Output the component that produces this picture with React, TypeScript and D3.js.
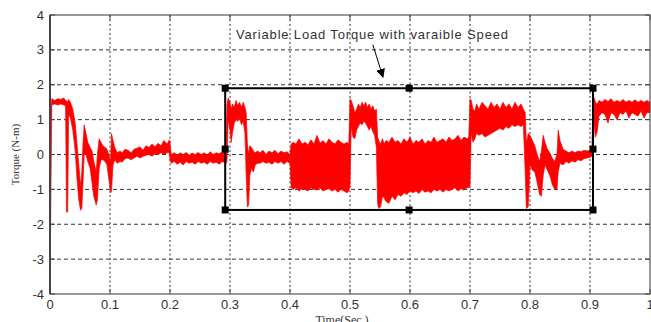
import React, { useEffect, useRef } from 'react';
import * as d3 from 'd3';

const xTicks = [0, 0.1, 0.2, 0.3, 0.4, 0.5, 0.6, 0.7, 0.8, 0.9, 1];
const xTickLabels = ['0', '0.1', '0.2', '0.3', '0.4', '0.5', '0.6', '0.7', '0.8', '0.9', '1'];
const yTicks = [-4, -3, -2, -1, 0, 1, 2, 3, 4];

// torque envelope: [time (s), upper (N-m), lower (N-m)]
const startup = [
  [0, 1.2, -4], [0.0015, 1.2, -1.1], [0.003, 1.6, 1.42], [0.008, 1.55, 1.45], [0.013, 1.6, 1.42],
  [0.018, 1.58, 1.45], [0.023, 1.62, 1.42], [0.026, 1.55, 1.4], [0.0275, 1.55, -1.65], [0.0295, 1.5, -1.65],
  [0.031, 1.58, 1.15], [0.034, 1.5, 1.05], [0.038, 1.3, 0.7], [0.042, 0.9, 0.1], [0.045, 0.3, -0.7],
  [0.048, -0.3, -1.3], [0.051, -0.9, -1.6], [0.053, -0.5, -1.55], [0.055, 0.3, -0.8], [0.057, 0.85, 0.0],
  [0.06, 0.6, 0.0], [0.063, 0.35, -0.2], [0.067, 0.2, -0.4], [0.07, 0.1, -0.8], [0.073, -0.2, -1.2],
  [0.077, -0.5, -1.45], [0.079, 0.0, -1.3], [0.082, 0.45, -0.4], [0.085, 0.35, -0.15], [0.088, 0.25, -0.15],
  [0.092, 0.2, -0.2], [0.095, 0.15, -0.3], [0.098, 0.0, -0.7], [0.101, -0.2, -1.1], [0.1025, 0.6, -1.05],
  [0.105, 0.4, -0.3], [0.108, 0.2, -0.15], [0.112, 0.05, -0.25], [0.117, 0.1, -0.2], [0.12, 0.05, -0.22],
  [0.125, 0.15, -0.12], [0.13, 0.12, -0.1], [0.135, 0.05, -0.15], [0.14, 0.15, -0.1], [0.145, 0.18, -0.05],
  [0.15, 0.22, -0.1], [0.155, 0.12, -0.05], [0.16, 0.25, -0.02], [0.165, 0.2, 0.0], [0.17, 0.3, -0.05],
  [0.175, 0.22, 0.02], [0.18, 0.32, 0.0], [0.185, 0.25, 0.05], [0.19, 0.4, 0.0], [0.195, 0.3, 0.05],
  [0.199, 0.42, 0.05],
];

const lowPlateau = [
  [0.2, 0.35, -0.15], [0.202, 0.0, -0.25], [0.207, 0.05, -0.2], [0.212, -0.02, -0.28], [0.217, 0.05, -0.22],
  [0.222, 0.0, -0.3], [0.227, 0.06, -0.2], [0.232, -0.02, -0.25], [0.237, 0.04, -0.22], [0.242, 0.0, -0.28],
  [0.247, 0.06, -0.2], [0.252, 0.0, -0.25], [0.257, 0.05, -0.22], [0.262, -0.02, -0.28], [0.267, 0.08, -0.2],
  [0.272, 0.0, -0.25], [0.277, 0.05, -0.22], [0.282, 0.02, -0.28], [0.287, 0.08, -0.2], [0.2935, 0.0, -0.25],
];

const step030 = [
  [0.295, 1.45, -0.2], [0.297, 1.62, 1.0], [0.3, 1.5, 0.7], [0.302, 1.3, 0.35], [0.304, 1.45, 0.6],
  [0.307, 1.35, 0.9], [0.31, 1.55, 1.0], [0.313, 1.4, 0.95], [0.316, 1.5, 1.05], [0.319, 1.35, 0.85],
  [0.322, 1.5, 0.95], [0.325, 1.35, 0.6], [0.327, 1.2, -0.6], [0.329, 0.3, -1.5], [0.331, 0.0, -1.45],
  [0.333, 0.25, -0.6], [0.336, 0.2, -0.4], [0.339, 0.1, -0.5], [0.342, 0.05, -0.3], [0.346, 0.1, -0.25],
  [0.35, 0.05, -0.25], [0.355, 0.12, -0.2], [0.36, 0.0, -0.25], [0.365, 0.1, -0.22], [0.37, 0.05, -0.28],
  [0.375, 0.12, -0.2], [0.38, 0.02, -0.25], [0.385, 0.1, -0.2], [0.39, 0.05, -0.28], [0.395, 0.08, -0.2],
  [0.4, 0.0, -0.25],
];

const band040 = [
  [0.402, 0.3, -0.95], [0.405, 0.35, -1.0], [0.41, 0.3, -0.95], [0.415, 0.45, -1.05], [0.42, 0.3, -0.98],
  [0.425, 0.35, -1.0], [0.43, 0.28, -1.05], [0.435, 0.42, -0.95], [0.44, 0.3, -1.0], [0.445, 0.55, -1.02],
  [0.45, 0.32, -0.95], [0.455, 0.4, -1.05], [0.46, 0.3, -1.0], [0.465, 0.45, -0.98], [0.47, 0.35, -1.05],
  [0.475, 0.3, -1.0], [0.48, 0.42, -1.08], [0.485, 0.35, -1.0], [0.49, 0.3, -1.05], [0.495, 0.35, -1.1],
  [0.498, 0.3, -1.05],
];

const step050 = [
  [0.5, 1.6, -0.9], [0.502, 1.55, 0.8], [0.505, 1.4, 0.5], [0.508, 1.2, 0.45], [0.511, 1.3, 0.7],
  [0.514, 1.45, 0.8], [0.517, 1.35, 0.9], [0.52, 1.5, 0.85], [0.523, 1.4, 0.95], [0.526, 1.5, 0.9],
  [0.529, 1.35, 0.8], [0.532, 1.45, 0.7], [0.535, 1.3, 0.8], [0.538, 1.4, 0.65], [0.541, 1.25, 0.55],
  [0.544, 1.3, 0.2],
];

const band055 = [
  [0.546, 0.5, -1.4], [0.548, 0.4, -1.55], [0.551, 0.3, -1.5], [0.554, 0.45, -1.2], [0.557, 0.3, -1.25],
  [0.56, 0.4, -1.35], [0.565, 0.35, -1.4], [0.57, 0.5, -1.2], [0.575, 0.35, -1.3], [0.58, 0.4, -1.15],
  [0.585, 0.3, -1.2], [0.59, 0.45, -1.1], [0.595, 0.35, -1.15], [0.6, 0.5, -1.05], [0.605, 0.3, -1.1],
  [0.61, 0.4, -1.05], [0.615, 0.35, -1.12], [0.62, 0.45, -1.0], [0.625, 0.3, -1.08], [0.63, 0.4, -1.05],
  [0.635, 0.35, -1.1], [0.64, 0.5, -1.0], [0.645, 0.35, -1.05], [0.65, 0.4, -1.0], [0.655, 0.45, -1.08],
  [0.66, 0.35, -1.0], [0.665, 0.5, -1.05], [0.67, 0.4, -1.0], [0.675, 0.45, -0.95], [0.68, 0.55, -1.05],
  [0.685, 0.4, -0.98], [0.69, 0.5, -1.02], [0.695, 0.45, -0.95], [0.698, 0.5, -0.95],
];

const step070 = [
  [0.7, 1.6, -0.9], [0.702, 1.55, 0.6], [0.705, 1.3, 0.35], [0.708, 1.25, 0.45], [0.711, 1.45, 0.6],
  [0.715, 1.3, 0.55], [0.72, 1.5, 0.6], [0.725, 1.4, 0.5], [0.73, 1.3, 0.55], [0.735, 1.5, 0.6],
  [0.74, 1.35, 0.65], [0.745, 1.45, 0.7], [0.75, 1.3, 0.75], [0.755, 1.5, 0.7], [0.76, 1.35, 0.8],
  [0.765, 1.45, 0.75], [0.77, 1.3, 0.85], [0.775, 1.5, 0.8], [0.78, 1.35, 0.85], [0.785, 1.45, 0.8],
  [0.789, 1.3, 0.85],
];

const step079 = [
  [0.792, 1.2, -0.5], [0.794, 0.3, -1.55], [0.797, 0.6, -1.5], [0.8, 0.55, -0.3], [0.804, 0.4, -0.45],
  [0.808, 0.25, -0.5], [0.812, 0.0, -0.8], [0.816, -0.2, -1.15], [0.819, 0.1, -1.2], [0.822, 0.55, -0.6],
  [0.825, 0.35, -0.3], [0.829, 0.15, -0.45], [0.833, 0.05, -0.6], [0.837, -0.1, -0.85], [0.841, -0.2, -1.0],
  [0.845, 0.0, -1.0], [0.847, 0.7, -0.5], [0.85, 0.4, -0.25], [0.855, 0.15, -0.3], [0.86, 0.1, -0.2],
  [0.865, 0.05, -0.25], [0.87, 0.1, -0.18], [0.875, 0.05, -0.22], [0.88, 0.1, -0.15], [0.885, 0.08, -0.18],
  [0.89, 0.12, -0.12], [0.895, 0.1, -0.1], [0.9, 0.12, -0.08], [0.903, 0.1, -0.05],
];

const step090 = [
  [0.905, 1.5, -0.05], [0.907, 1.62, 0.9], [0.909, 1.5, 0.5], [0.912, 1.45, 0.65], [0.915, 1.55, 1.1],
  [0.92, 1.5, 1.2], [0.925, 1.58, 1.15], [0.93, 1.52, 0.9], [0.935, 1.6, 1.2], [0.94, 1.5, 1.15],
  [0.945, 1.55, 1.0], [0.95, 1.5, 1.2], [0.955, 1.58, 1.15], [0.96, 1.5, 1.25], [0.965, 1.55, 1.05],
  [0.97, 1.5, 1.2], [0.975, 1.57, 1.15], [0.98, 1.5, 1.1], [0.985, 1.55, 1.25], [0.99, 1.5, 1.05],
  [0.995, 1.55, 1.2], [1.0, 1.5, 1.2],
];

// annotation (data units)
const boxTime = [0.292, 0.905];
const boxTorque = [-1.59, 1.9];
const noteText = 'Variable Load Torque with varaible Speed';
const notePos = [0.31, 3.31];
const arrowFrom = [0.538, 3.15];
const arrowTo = [0.555, 2.22];

const App = () => {
  const svgRef = useRef(null);

  useEffect(() => {
    const svg = d3.select(svgRef.current);
    svg.selectAll('*').remove();

    const margin = { top: 15, left: 50 },
          width = 600,
          height = 279;

    const x = d3.scaleLinear().domain([0, 1]).range([margin.left, margin.left + width]);
    const y = d3.scaleLinear().domain([-4, 4]).range([margin.top + height, margin.top]);

    svg.append('rect').attr('width', 651).attr('height', 322).attr('fill', '#fff');

    // grid
    svg.append('g').selectAll('line')
      .data(yTicks.slice(1, -1))
      .enter().append('line')
      .attr('x1', x(0)).attr('x2', x(1))
      .attr('y1', d => y(d)).attr('y2', d => y(d))
      .attr('stroke', '#333').attr('stroke-width', 1).attr('stroke-dasharray', '4,3');
    svg.append('g').selectAll('line')
      .data(xTicks.slice(1, -1))
      .enter().append('line')
      .attr('x1', d => x(d)).attr('x2', d => x(d))
      .attr('y1', y(4)).attr('y2', y(-4))
      .attr('stroke', '#333').attr('stroke-width', 1).attr('stroke-dasharray', '2,2.5');

    // torque trace
    const trace = [...startup, ...lowPlateau, ...step030, ...band040, ...step050,
      ...band055, ...step070, ...step079, ...step090];
    const area = d3.area()
      .x(d => x(d[0]))
      .y0(d => y(d[2]))
      .y1(d => y(d[1]));
    svg.append('path')
      .datum(trace)
      .attr('d', area)
      .attr('fill', '#ff0000')
      .attr('stroke', '#ff0000')
      .attr('stroke-width', 0.7);

    // frame + inside ticks
    svg.append('rect')
      .attr('x', x(0)).attr('y', y(4))
      .attr('width', width).attr('height', height)
      .attr('fill', 'none').attr('stroke', '#555').attr('stroke-width', 1.2);
    svg.append('line').attr('x1', x(0)).attr('x2', x(0)).attr('y1', y(4)).attr('y2', y(-4))
      .attr('stroke', '#444').attr('stroke-width', 2);
    const ticks = svg.append('g').attr('stroke', '#444').attr('stroke-width', 1);
    xTicks.forEach(t => {
      ticks.append('line').attr('x1', x(t)).attr('x2', x(t)).attr('y1', y(-4)).attr('y2', y(-4) - 5);
      ticks.append('line').attr('x1', x(t)).attr('x2', x(t)).attr('y1', y(4)).attr('y2', y(4) + 5);
    });
    yTicks.forEach(v => {
      ticks.append('line').attr('x1', x(0)).attr('x2', x(0) + 5).attr('y1', y(v)).attr('y2', y(v));
      ticks.append('line').attr('x1', x(1)).attr('x2', x(1) - 5).attr('y1', y(v)).attr('y2', y(v));
    });

    // tick labels
    svg.append('g').selectAll('text')
      .data(xTicks)
      .enter().append('text')
      .attr('x', d => x(d))
      .attr('y', y(-4) + 15)
      .attr('text-anchor', 'middle')
      .style('font-family', 'Arial, "Liberation Sans", sans-serif')
      .style('font-size', '13px')
      .style('fill', '#333')
      .text((d, i) => xTickLabels[i]);
    svg.append('g').selectAll('text')
      .data(yTicks)
      .enter().append('text')
      .attr('x', x(0) - 6)
      .attr('y', d => y(d))
      .attr('dy', '0.35em')
      .attr('text-anchor', 'end')
      .style('font-family', 'Arial, "Liberation Sans", sans-serif')
      .style('font-size', '13px')
      .style('fill', '#333')
      .text(d => d);

    // axis titles
    svg.append('text')
      .attr('x', 342).attr('y', 324)
      .attr('text-anchor', 'middle')
      .style('font-family', '"Liberation Serif", "Times New Roman", serif')
      .style('font-size', '12px')
      .style('fill', '#333')
      .text('Time(Sec.)');
    svg.append('text')
      .attr('transform', `translate(19,${y(0)}) rotate(-90)`)
      .attr('text-anchor', 'middle')
      .style('font-family', '"Liberation Serif", "Times New Roman", serif')
      .style('font-size', '11px')
      .style('fill', '#333')
      .text('Torque (N-m)');

    // annotation box with handles
    const bx0 = x(boxTime[0]), bx1 = x(boxTime[1]);
    const by0 = y(boxTorque[1]), by1 = y(boxTorque[0]);
    svg.append('rect')
      .attr('x', bx0).attr('y', by0)
      .attr('width', bx1 - bx0).attr('height', by1 - by0)
      .attr('fill', 'none').attr('stroke', '#000').attr('stroke-width', 2);
    const bxm = (bx0 + bx1) / 2, bym = (by0 + by1) / 2;
    const handles = [[bx0, by0], [bxm, by0], [bx1, by0], [bx0, bym], [bx1, bym], [bx0, by1], [bxm, by1], [bx1, by1]];
    svg.append('g').selectAll('rect')
      .data(handles)
      .enter().append('rect')
      .attr('x', d => d[0] - 3.5).attr('y', d => d[1] - 3.5)
      .attr('width', 7).attr('height', 7)
      .attr('fill', '#000');

    // annotation text + arrow
    svg.append('text')
      .attr('x', x(notePos[0])).attr('y', y(notePos[1]))
      .attr('textLength', 272)
      .attr('lengthAdjust', 'spacing')
      .style('font-family', 'Arial, "Liberation Sans", sans-serif')
      .style('font-size', '13px')
      .style('fill', '#333')
      .text(noteText);
    svg.append('defs').append('marker')
      .attr('id', 'arrowhead')
      .attr('viewBox', '0 0 10 10')
      .attr('refX', 9).attr('refY', 5)
      .attr('markerWidth', 9).attr('markerHeight', 9)
      .attr('markerUnits', 'userSpaceOnUse')
      .attr('orient', 'auto')
      .append('path').attr('d', 'M0,0 L10,5 L0,10 z').attr('fill', '#000');
    svg.append('line')
      .attr('x1', x(arrowFrom[0])).attr('y1', y(arrowFrom[1]))
      .attr('x2', x(arrowTo[0])).attr('y2', y(arrowTo[1]))
      .attr('stroke', '#000').attr('stroke-width', 1)
      .attr('marker-end', 'url(#arrowhead)');
  }, []);

  return (
    <svg ref={svgRef} width={651} height={322}
      style={{ position: 'absolute', left: 0, top: 0 }} />
  );
};

export default App;
